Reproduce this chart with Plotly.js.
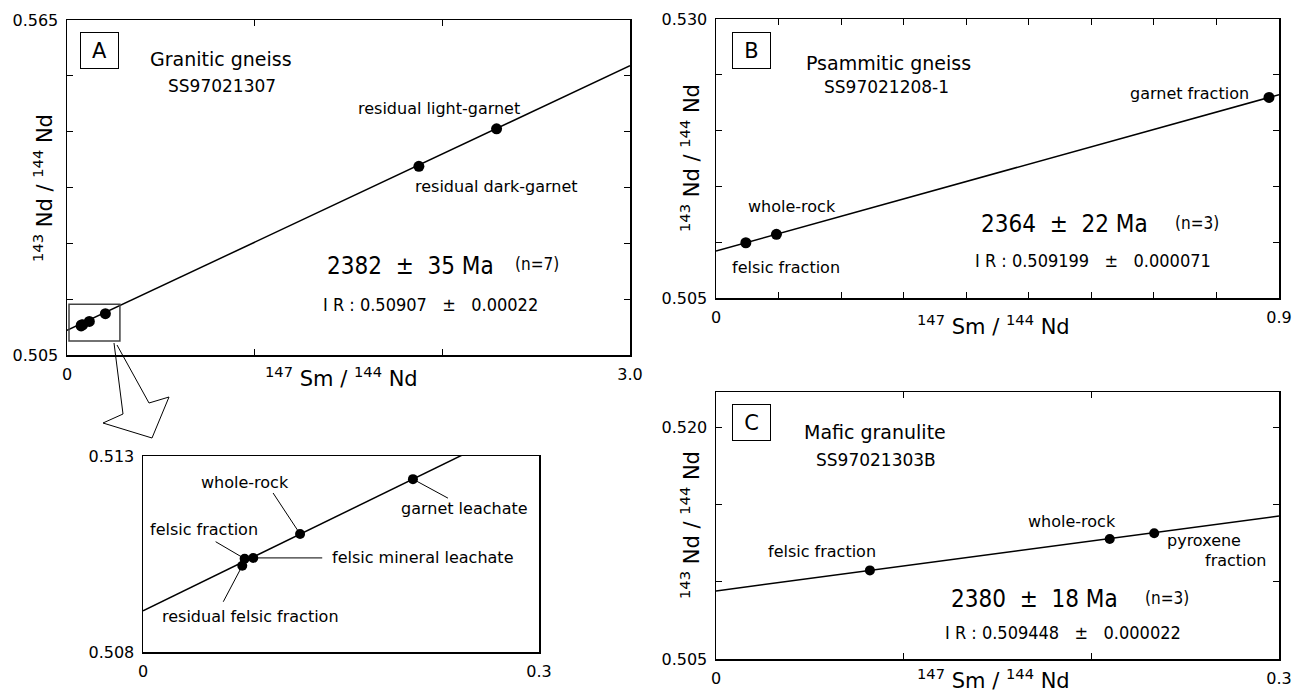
<!DOCTYPE html>
<html><head><meta charset="utf-8">
<script src="https://cdn.plot.ly/plotly-3.0.1.min.js"></script>
<style>html,body{margin:0;padding:0;background:#fff;}#chart{width:1292px;height:694px;}</style>
</head><body><div id="chart"></div>
<script>
// ---------- Panel A : Granitic gneiss SS97021307 ----------
const labelsA = ['residual felsic fraction', 'felsic fraction', 'felsic mineral leachate', 'whole-rock', 'garnet leachate', 'residual dark-garnet', 'residual light-garnet'];
const smNdA = [0.0752, 0.0770, 0.0835, 0.119, 0.2045, 1.875, 2.289];
const ndNdA = [0.51020, 0.51038, 0.51040, 0.51101, 0.51241, 0.5388, 0.5455];
const isoXA = [0, 3.0];
const isoYA = [0.5094, 0.5568];
const insetIsoX = [0, 0.3];
const insetIsoY = [0.50905, 0.51398];
const ticksXA = [0, 1, 2, 3];
const tickTextXA = ['0', '', '', '3.0'];
const ticksYA = [0.505, 0.515, 0.525, 0.535, 0.545, 0.555, 0.565];
const tickTextYA = ['0.505', '', '', '', '', '', '0.565'];
const ticksXIn = [0, 0.3];
const tickTextXIn = ['0', '0.3'];
const ticksYIn = [0.508, 0.513];
const tickTextYIn = ['0.508', '0.513'];

// ---------- Panel B : Psammitic gneiss SS97021208-1 ----------
const labelsB = ['felsic fraction', 'whole-rock', 'garnet fraction'];
const smNdB = [0.0477, 0.0966, 0.884];
const ndNdB = [0.50995, 0.51071, 0.52297];
const isoXB = [0, 0.9];
const isoYB = [0.50921, 0.52322];
const ticksXB = [0, 0.1, 0.2, 0.3, 0.4, 0.5, 0.6, 0.7, 0.8, 0.9];
const tickTextXB = ['0', '', '', '', '', '', '', '', '', '0.9'];
const ticksYB = [0.505, 0.510, 0.515, 0.520, 0.525, 0.530];
const tickTextYB = ['0.505', '', '', '', '', '0.530'];

// ---------- Panel C : Mafic granulite SS97021303B ----------
const labelsC = ['felsic fraction', 'whole-rock', 'pyroxene fraction'];
const smNdC = [0.082, 0.2098, 0.2335];
const ndNdC = [0.51073, 0.51276, 0.51313];
const isoXC = [0, 0.3];
const isoYC = [0.50940, 0.51425];
const ticksXC = [0, 0.1, 0.2, 0.3];
const tickTextXC = ['0', '', '', '0.3'];
const ticksYC = [0.505, 0.510, 0.515, 0.520];
const tickTextYC = ['0.505', '', '', '0.520'];

// ---------- styling ----------
const W = 1292, H = 694;
const px = x => x / W, py = y => 1 - y / H;
const F = 'DejaVu Sans, Verdana, sans-serif';
const FC = 'Liberation Sans Narrow, DejaVu Sans Condensed, DejaVu Sans, sans-serif';
const NB = '\u00a0';

function axisStyle(domain, anchor, tv, tt, range, ticks) {
  return {
    domain: domain, anchor: anchor, range: range,
    tickmode: 'array', tickvals: tv, ticktext: tt,
    ticks: ticks === false ? '' : 'inside', ticklen: 6, tickwidth: 1, tickcolor: '#000',
    showline: true, mirror: ticks === false ? true : 'ticks', linecolor: '#000', linewidth: 1.5,
    showgrid: false, zeroline: false, fixedrange: true,
    tickfont: {family: F, size: 16, color: '#000'}, ticklabelstandoff: 4
  };
}

const lineStyle = {color: '#000', width: 1.5};
const mk = s => ({color: '#000', size: s});

const traces = [
  {x: isoXA, y: isoYA, xaxis: 'x', yaxis: 'y', mode: 'lines', line: lineStyle, hoverinfo: 'skip'},
  {x: smNdA, y: ndNdA, text: labelsA, xaxis: 'x', yaxis: 'y', mode: 'markers', marker: mk(11)},
  {x: isoXB, y: isoYB, xaxis: 'x2', yaxis: 'y2', mode: 'lines', line: lineStyle, hoverinfo: 'skip'},
  {x: smNdB, y: ndNdB, text: labelsB, xaxis: 'x2', yaxis: 'y2', mode: 'markers', marker: mk(11)},
  {x: isoXC, y: isoYC, xaxis: 'x3', yaxis: 'y3', mode: 'lines', line: lineStyle, hoverinfo: 'skip'},
  {x: smNdC, y: ndNdC, text: labelsC, xaxis: 'x3', yaxis: 'y3', mode: 'markers', marker: mk(10)},
  {x: insetIsoX, y: insetIsoY, xaxis: 'x4', yaxis: 'y4', mode: 'lines', line: lineStyle, hoverinfo: 'skip'},
  {x: smNdA.slice(0, 5), y: ndNdA.slice(0, 5), text: labelsA.slice(0, 5), xaxis: 'x4', yaxis: 'y4', mode: 'markers', marker: mk(10)}
];

const ann = [];
const shapes = [];
function txt(t, x, y, size, opts) {
  ann.push(Object.assign({text: t, xref: 'paper', yref: 'paper', x: px(x), y: py(y), showarrow: false,
    xanchor: 'left', yanchor: 'middle', font: {family: F, size: size, color: '#000'}}, opts || {}));
}
// point labels attached to data points: [point index, text, dx, dy, anchor]
function ptLabels(xs, ys, xr, yr, specs) {
  specs.forEach(s => {
    ann.push({text: s[1], xref: xr, yref: yr, x: xs[s[0]], y: ys[s[0]], xshift: s[2], yshift: -s[3],
      showarrow: false, xanchor: s[4] || 'center', yanchor: 'middle', font: {family: F, size: 16, color: '#000'}});
  });
}
function leaders(xs, ys, xr, yr, specs) {
  specs.forEach(s => {
    shapes.push({type: 'line', xref: xr, yref: yr, xsizemode: 'pixel', ysizemode: 'pixel',
      xanchor: xs[s[0]], yanchor: ys[s[0]], x0: 0, y0: 0, x1: s[1], y1: -s[2], line: {color: '#000', width: 1}});
  });
}
function box(letter, cx, cy) {
  ann.push({text: letter, xref: 'paper', yref: 'paper', x: px(cx), y: py(cy), showarrow: false,
    xanchor: 'center', yanchor: 'middle', width: 37, height: 35, borderpad: 0, bordercolor: '#000', borderwidth: 1,
    font: {family: F, size: 21, color: '#000'}});
}
const xTitle = '<sup>147</sup>' + NB + 'Sm /' + NB + '<sup>144</sup>' + NB + 'Nd';
const yTitle = '<sup>143</sup>' + NB + 'Nd /' + NB + '<sup>144</sup>' + NB + 'Nd';
function axisTitles(xx, xy, yx, yy) {
  txt(xTitle, xx, xy, 21, {xanchor: 'center'});
  txt(yTitle, yx, yy, 21, {xanchor: 'center', textangle: -90});
}
const pm = NB + NB + '\u00b1' + NB + NB;
const bigF = {family: FC, size: 24, color: '#000'};
const nF = {family: FC, size: 17, color: '#000'};
const irF = {family: FC, size: 18, color: '#000'};

// Panel A texts
box('A', 99.5, 50.5);
txt('Granitic gneiss', 148, 59, 19);
txt('SS97021307', 166, 86, 17);
txt('2382' + pm + '35 Ma', 325, 266, 24, {font: bigF});
txt('(n=7)', 513, 264, 17, {font: nF});
txt('I R :' + NB + '0.50907' + NB + pm + NB + '0.00022', 321, 304, 18, {font: irF});
axisTitles(341, 377, 43, 188);
ptLabels(smNdA, ndNdA, 'x', 'y', [[6, 'residual light-garnet', -58, -20], [5, 'residual dark-garnet', 78, 20]]);

// Inset texts
ptLabels(smNdA, ndNdA, 'x4', 'y4', [
  [0, 'residual felsic fraction', 8, 51],
  [1, 'felsic fraction', -41, -29],
  [2, 'felsic mineral leachate', 77, 0, 'left'],
  [3, 'whole-rock', -55, -52],
  [4, 'garnet leachate', 52, 29]
]);
leaders(smNdA, ndNdA, 'x4', 'y4', [
  [0, -19, 36], [1, -29, -17], [2, 69, 0], [3, -27, -41], [4, 35, 19]
]);

// Panel B texts
box('B', 751.5, 50.5);
txt('Psammitic gneiss', 804, 63, 19);
txt('SS97021208-1', 822, 87, 17);
txt('2364' + pm + '22 Ma', 979, 224, 24, {font: bigF});
txt('(n=3)', 1173, 223, 17, {font: nF});
txt('I R :' + NB + '0.509199' + NB + pm + NB + '0.000071', 973, 260, 18, {font: irF});
axisTitles(993, 325, 690, 158);
ptLabels(smNdB, ndNdB, 'x2', 'y2', [[0, 'felsic fraction', 40, 25], [1, 'whole-rock', 16, -28], [2, 'garnet fraction', -18, -4, 'right']]);

// Panel C texts
box('C', 751, 422);
txt('Mafic granulite', 802, 432, 19);
txt('SS97021303B', 814, 460, 17);
txt('2380' + pm + '18 Ma', 949, 599, 24, {font: bigF});
txt('(n=3)', 1143, 598, 17, {font: nF});
txt('I R :' + NB + '0.509448' + NB + pm + NB + '0.000022', 943, 632, 18, {font: irF});
axisTitles(993, 679, 690, 525);
ptLabels(smNdC, ndNdC, 'x3', 'y3', [[0, 'felsic fraction', -48, -19], [1, 'whole-rock', -38, -18], [2, 'pyroxene', 50, 7], [2, 'fraction', 81, 27]]);

// zoom rectangle in panel A and hollow arrow to the inset
shapes.push({type: 'rect', xref: 'x', yref: 'y', x0: 0.0107, x1: 0.282, y0: 0.5075, y1: 0.5141,
  line: {color: '#444', width: 1.5}, fillcolor: 'rgba(0,0,0,0)'});
const arrowPts = [[114, 343], [123, 414], [103, 423], [152, 438], [169, 397], [149, 403], [117, 345]];
shapes.push({type: 'path', xref: 'paper', yref: 'paper',
  path: arrowPts.map((p, i) => (i ? 'L' : 'M') + px(p[0]) + ',' + py(p[1])).join(' '),
  line: {color: '#000', width: 1}});

const layout = {
  width: W, height: H, margin: {l: 0, r: 0, t: 0, b: 0},
  paper_bgcolor: '#fff', plot_bgcolor: 'rgba(0,0,0,0)', showlegend: false,
  xaxis: axisStyle([px(67), px(630)], 'y', ticksXA, tickTextXA, [0, 3]),
  yaxis: axisStyle([py(355), py(20)], 'x', ticksYA, tickTextYA, [0.505, 0.565]),
  xaxis2: axisStyle([px(716), px(1279)], 'y2', ticksXB, tickTextXB, [0, 0.9]),
  yaxis2: axisStyle([py(298), py(19)], 'x2', ticksYB, tickTextYB, [0.505, 0.530]),
  xaxis3: axisStyle([px(716), px(1279)], 'y3', ticksXC, tickTextXC, [0, 0.3]),
  yaxis3: axisStyle([py(659), py(392)], 'x3', ticksYC, tickTextYC, [0.505, 0.52227]),
  xaxis4: axisStyle([px(143), px(539)], 'y4', ticksXIn, tickTextXIn, [0, 0.3], false),
  yaxis4: axisStyle([py(652), py(456)], 'x4', ticksYIn, tickTextYIn, [0.508, 0.513], false),
  annotations: ann, shapes: shapes
};
Plotly.newPlot('chart', traces, layout, {displayModeBar: false, staticPlot: true});
</script></body></html>
